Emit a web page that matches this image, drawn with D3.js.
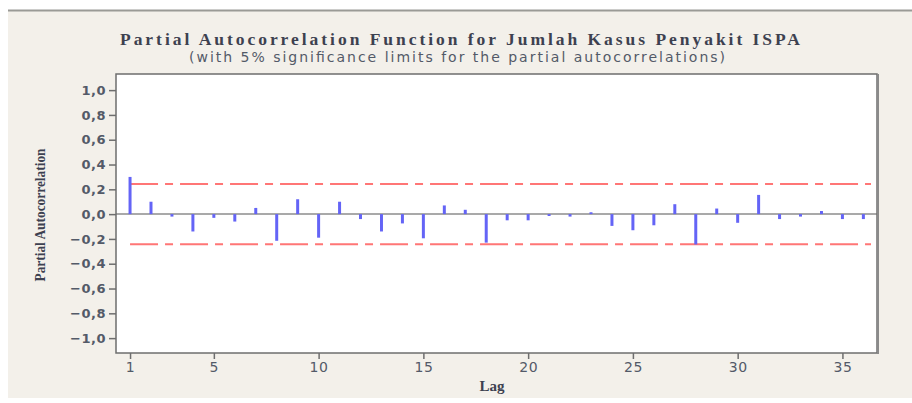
<!DOCTYPE html>
<html>
<head>
<meta charset="utf-8">
<script src="https://cdn.jsdelivr.net/npm/d3@7"></script>
<style>
  html, body { margin: 0; padding: 0; background: #ffffff; }
  svg { display: block; }
</style>
</head>
<body>
<div id="chart"></div>
<script>
// Partial autocorrelations of the ISPA case series, lags 1..36
const lags = d3.range(1, 37);
const pacf = [0.30, 0.10, -0.02, -0.14, -0.03, -0.06, 0.05, -0.215, 0.12, -0.19,
              0.10, -0.04, -0.14, -0.075, -0.195, 0.07, 0.035, -0.23, -0.05, -0.05,
              -0.015, -0.02, 0.015, -0.095, -0.13, -0.09, 0.08, -0.245, 0.045, -0.07,
              0.155, -0.04, -0.02, 0.025, -0.04, -0.04];
// 5% significance limit (±2/sqrt(n))
const sigLimit = 0.243;
const yTicks = [-1.0, -0.8, -0.6, -0.4, -0.2, 0.0, 0.2, 0.4, 0.6, 0.8, 1.0];
const xTicks = [1, 5, 10, 15, 20, 25, 30, 35];

const W = 912, H = 403;
const frame = { left: 116, right: 877, top: 74, bottom: 353 };

const svg = d3.select("#chart").append("svg")
  .attr("width", W).attr("height", H);

// page backdrop
svg.append("rect").attr("x", 0).attr("y", 0).attr("width", W).attr("height", H).attr("fill", "#ffffff");
svg.append("rect").attr("x", 8).attr("y", 11).attr("width", W - 8).attr("height", 387).attr("fill", "#f3f0ea");
svg.append("line").attr("x1", 8).attr("x2", W).attr("y1", 10.5).attr("y2", 10.5)
  .attr("stroke", "#9a9a96").attr("stroke-width", 2);

const x = d3.scaleLinear().domain([0.33, 36.65]).range([frame.left, frame.right]);
const y = d3.scaleLinear().domain([-1.12, 1.13]).range([frame.bottom, frame.top]);

// plot area
svg.append("rect")
  .attr("x", frame.left).attr("y", frame.top)
  .attr("width", frame.right - frame.left).attr("height", frame.bottom - frame.top)
  .attr("fill", "#ffffff");

// significance limits
const limits = svg.append("g");
[sigLimit, -sigLimit].forEach(v => {
  limits.append("line")
    .attr("x1", x(1)).attr("x2", x(36.65) - 6)
    .attr("y1", y(v)).attr("y2", y(v))
    .attr("stroke", "#ff7676").attr("stroke-width", 2)
    .attr("stroke-dasharray", "28,7,8,7");
});

// zero reference line
svg.append("line")
  .attr("x1", frame.left).attr("x2", frame.right)
  .attr("y1", y(0)).attr("y2", y(0))
  .attr("stroke", "#8c8c8c").attr("stroke-width", 1.5);

// PACF spikes
svg.append("g").selectAll("line")
  .data(lags.map((l, i) => ({ lag: l, v: pacf[i] })))
  .join("line")
  .attr("x1", d => x(d.lag)).attr("x2", d => x(d.lag))
  .attr("y1", y(0)).attr("y2", d => y(d.v))
  .attr("stroke", "#6464f6").attr("stroke-width", 3);

// frame
svg.append("rect")
  .attr("x", frame.left).attr("y", frame.top)
  .attr("width", frame.right - frame.left).attr("height", frame.bottom - frame.top)
  .attr("fill", "none").attr("stroke", "#6e6e6e").attr("stroke-width", 1.5);
svg.append("line")
  .attr("x1", frame.right + 1).attr("x2", frame.right + 1)
  .attr("y1", frame.top).attr("y2", frame.bottom + 1)
  .attr("stroke", "#8a8a8a").attr("stroke-width", 2);

const comma = d3.formatLocale({ decimal: ",", thousands: ".", grouping: [3], currency: ["", ""] });
const fmt = comma.format(".1f");

// y axis
const yAxis = svg.append("g")
  .attr("transform", `translate(${frame.left},0)`)
  .call(d3.axisLeft(y).tickValues(yTicks).tickFormat(fmt).tickSize(7).tickPadding(3));
yAxis.select(".domain").remove();
yAxis.selectAll(".tick line").attr("stroke", "#6e6e6e").attr("stroke-width", 1.5);
yAxis.selectAll(".tick text")
  .attr("fill", "#535a68")
  .style("font-family", "'DejaVu Sans', Verdana, sans-serif")
  .style("font-size", "13px")
  .style("font-weight", "bold")
  .style("letter-spacing", "0.5px");

// x axis
const xAxis = svg.append("g")
  .attr("transform", `translate(0,${frame.bottom})`)
  .call(d3.axisBottom(x).tickValues(xTicks).tickFormat(d3.format("d")).tickSize(6).tickPadding(3));
xAxis.select(".domain").remove();
xAxis.selectAll(".tick line").attr("stroke", "#6e6e6e").attr("stroke-width", 1.5);
xAxis.selectAll(".tick text")
  .attr("fill", "#535a68")
  .style("font-family", "'DejaVu Sans', Verdana, sans-serif")
  .style("font-size", "14px")
  .style("letter-spacing", "0.6px");

// titles
svg.append("text")
  .attr("x", 460).attr("y", 45)
  .attr("text-anchor", "middle")
  .attr("textLength", 680).attr("lengthAdjust", "spacing")
  .attr("fill", "#3d4150")
  .style("font-family", "'Liberation Serif', 'Times New Roman', serif")
  .style("font-weight", "bold")
  .style("font-size", "17.5px")
  .text("Partial Autocorrelation Function for Jumlah Kasus Penyakit ISPA");

svg.append("text")
  .attr("x", 457).attr("y", 62)
  .attr("text-anchor", "middle")
  .attr("textLength", 536).attr("lengthAdjust", "spacing")
  .attr("fill", "#535a68")
  .style("font-family", "'DejaVu Sans', Verdana, sans-serif")
  .style("font-size", "14px")
  .text("(with 5% significance limits for the partial autocorrelations)");

svg.append("text")
  .attr("transform", "translate(45,215) rotate(-90)")
  .attr("text-anchor", "middle")
  .attr("textLength", 133).attr("lengthAdjust", "spacingAndGlyphs")
  .attr("fill", "#3d4150")
  .style("font-family", "'Liberation Serif', 'Times New Roman', serif")
  .style("font-weight", "bold")
  .style("font-size", "14px")
  .text("Partial Autocorrelation");

svg.append("text")
  .attr("x", 492).attr("y", 391)
  .attr("text-anchor", "middle")
  .attr("fill", "#3d4150")
  .style("font-family", "'Liberation Serif', 'Times New Roman', serif")
  .style("font-weight", "bold")
  .style("font-size", "15px")
  .text("Lag");
</script>
</body>
</html>
